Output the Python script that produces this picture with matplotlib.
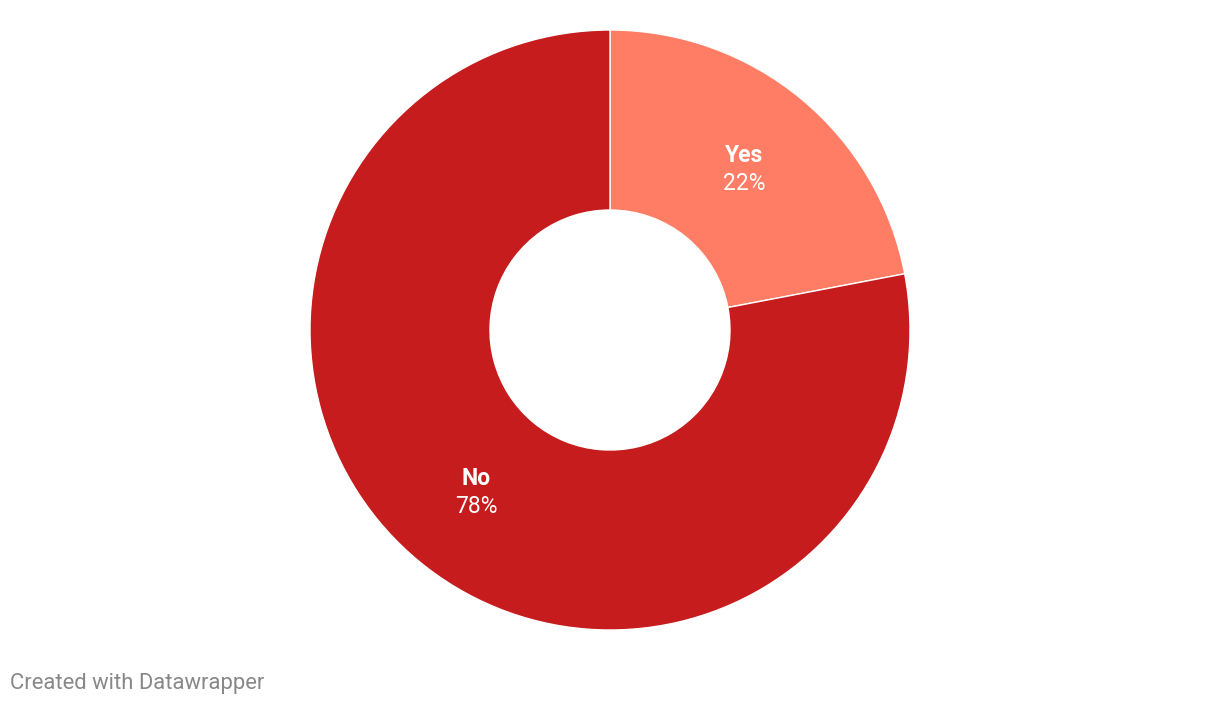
import matplotlib
matplotlib.use("Agg")
import matplotlib.pyplot as plt
import numpy as np

labels = ["Yes", "No"]
values = [22, 78]
colors = ["#ff7d64", "#c71c1d"]

W, H = 1220, 706
fig = plt.figure(figsize=(W/100, H/100), dpi=100)
fig.patch.set_facecolor("white")

cx, cy, R = 610, 330, 300
ax = fig.add_axes([(cx-R)/W, (H-cy-R)/H, 2*R/W, 2*R/H])

wedges, _ = ax.pie(values, colors=colors, startangle=90, counterclock=False,
                   radius=1, wedgeprops=dict(width=0.6, edgecolor="white", linewidth=1),
                   center=(0, 0))
ax.set_xlim(-1, 1)
ax.set_ylim(-1, 1)
ax.set_aspect("equal")
ax.axis("off")

start = 90.0
total = sum(values)
for lab, v in zip(labels, values):
    span = v / total * 360
    mid = np.deg2rad(start - span / 2)
    start -= span
    x, y = 0.7 * np.cos(mid), 0.7 * np.sin(mid)
    ax.text(x, y + 0.043, lab, ha="center", va="center", color="white",
            fontsize=16.5, fontweight="bold", family="Roboto")
    ax.text(x, y - 0.050, f"{v}%", ha="center", va="center", color="white",
            fontsize=16.5, family="Roboto")

fig.text(10/W, 1 - 683/H, "Created with Datawrapper", ha="left", va="center",
         color="#888888", fontsize=15.8, family="Roboto")

fig.savefig("out.png", dpi=100, facecolor="white")
